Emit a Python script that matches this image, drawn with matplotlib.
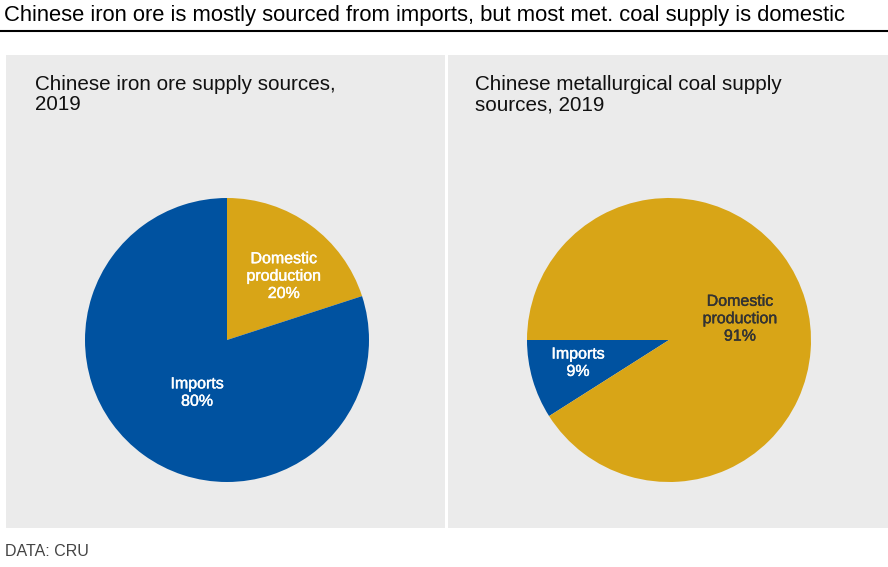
import matplotlib
matplotlib.use('Agg')
import matplotlib.pyplot as plt
import matplotlib.patheffects as pe
from matplotlib.patches import Rectangle
from matplotlib.lines import Line2D

plt.rcParams['font.family'] = ['Liberation Sans', 'DejaVu Sans']

TITLE = "Chinese iron ore is mostly sourced from imports, but most met. coal supply is domestic"
SOURCE = "DATA: CRU"

# iron ore (left)
ore_labels = ["Domestic\nproduction", "Imports"]
ore_values = [20, 80]
ore_title = "Chinese iron ore supply sources,\n2019"

# met. coal (right)
coal_labels = ["Imports", "Domestic\nproduction"]
coal_values = [9, 91]
coal_title = "Chinese metallurgical coal supply\nsources, 2019"

BLUE = "#0052A0"
GOLD = "#D8A517"
PANEL = "#EBEBEB"

W, H = 888, 567
fig = plt.figure(figsize=(W / 100, H / 100), dpi=100)


def px(x, y):
    # pixel (od horneho okraja) -> suradnice figury
    return x / W, 1 - y / H


# nadpis + ciara
fig.text(*px(4, 16), TITLE, fontsize=15.8, va='center', ha='left', color='black')
fig.add_artist(Line2D([0, 1], [1 - 31 / H] * 2, color='black', lw=1.5))

# sive panely
for x0, x1 in [(6, 445), (448, 888)]:
    fig.add_artist(Rectangle((x0 / W, 1 - 528 / H), (x1 - x0) / W, (528 - 55) / H,
                             facecolor=PANEL, edgecolor='none', zorder=0))

fig.text(*px(35, 75), ore_title, fontsize=14.9, va='top', ha='left', color='#111111', linespacing=1.1)
fig.text(*px(475, 75), coal_title, fontsize=14.9, va='top', ha='left', color='#111111', linespacing=1.1)
fig.text(*px(5, 551), SOURCE, fontsize=11.5, va='center', ha='left', color='#444444')

r = 142
# lava kolac
ax1 = fig.add_axes([(227 - r) / W, 1 - (340 + r) / H, 2 * r / W, 2 * r / H])
ax1.pie(ore_values, colors=[GOLD, BLUE], startangle=90, counterclock=False,
        wedgeprops=dict(linewidth=0))
ax1.set_xlim(-1, 1)
ax1.set_ylim(-1, 1)
ax1.axis('off')
ore_pos = [(0.40, 0.45), (-0.21, -0.37)]
for (x, y), lab, v in zip(ore_pos, ore_labels, ore_values):
    ax1.text(x, y, f"{lab}\n{v}%", ha='center', va='center', fontsize=11.5,
             color='white', linespacing=1.2,
             path_effects=[pe.withStroke(linewidth=0.3, foreground='white')])

# pravy kolac
ax2 = fig.add_axes([(669 - r) / W, 1 - (340 + r) / H, 2 * r / W, 2 * r / H])
ax2.pie(coal_values, colors=[BLUE, GOLD], startangle=180, counterclock=True,
        wedgeprops=dict(linewidth=0))
ax2.set_xlim(-1, 1)
ax2.set_ylim(-1, 1)
ax2.axis('off')
coal_pos = [(-0.64, -0.16), (0.50, 0.15)]
coal_col = ['white', '#333333']
for (x, y), lab, v, c in zip(coal_pos, coal_labels, coal_values, coal_col):
    ax2.text(x, y, f"{lab}\n{v}%", ha='center', va='center', fontsize=11.5,
             color=c, linespacing=1.2,
             path_effects=[pe.withStroke(linewidth=0.3, foreground=c)])

plt.savefig("out.png", dpi=100)
